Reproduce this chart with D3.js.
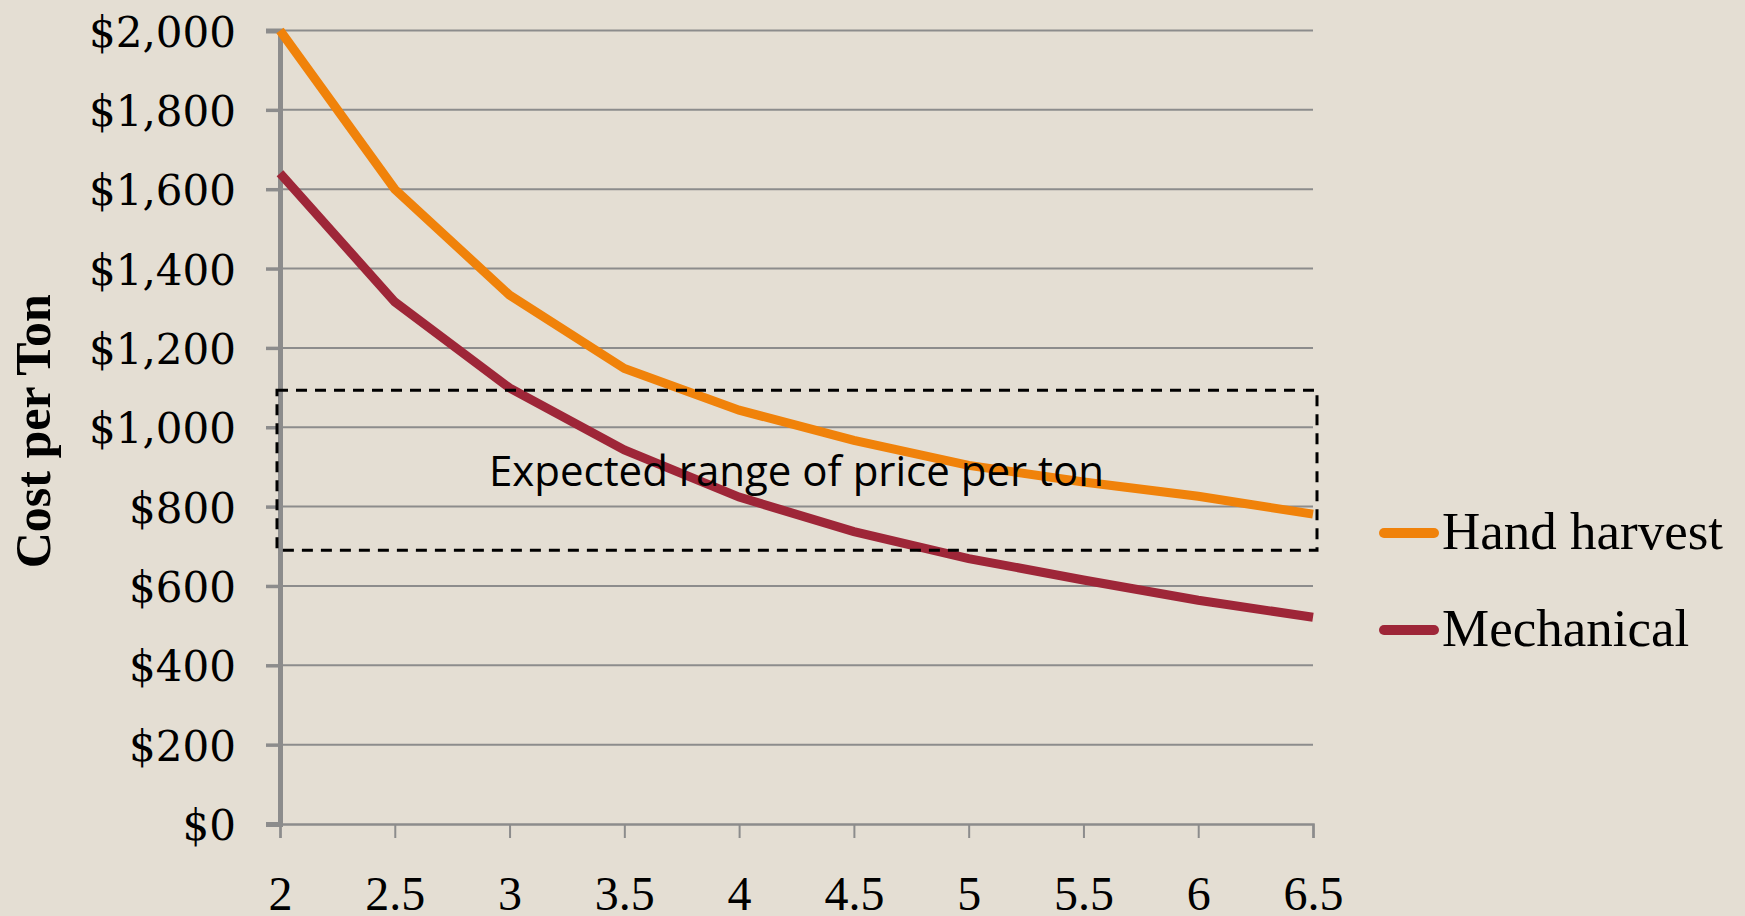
<!DOCTYPE html>
<html>
<head>
<meta charset="utf-8">
<script src="https://cdn.jsdelivr.net/npm/d3@7"></script>
<style>
  html, body { margin: 0; padding: 0; background: #e4ded3; }
  svg { display: block; }
  .tick text { fill: #000; }
</style>
</head>
<body>
<svg></svg>
<script>
///////////////////////////////////////////
// Data
var yieldTons = [2, 2.5, 3, 3.5, 4, 4.5, 5, 5.5, 6, 6.5];
var handHarvest = [2000, 1600, 1333, 1148, 1043, 967, 904, 862, 826, 781];
var mechanical  = [1640, 1316, 1099, 943, 824, 737, 669, 615, 564, 521];
var seriesNames = ["Hand harvest", "Mechanical"];
var yTicks = [0, 200, 400, 600, 800, 1000, 1200, 1400, 1600, 1800, 2000];
var priceRange = [690, 1093]; // expected range of price per ton
var rangeLabel = "Expected range of price per ton";

///////////////////////////////////////////
// Layout Setting
var svgWidth = 1745,
    svgHeight = 916;
var margin = {top: 30.5, right: 432, bottom: 92, left: 280},
    width = svgWidth - margin.left - margin.right,
    height = svgHeight - margin.top - margin.bottom;

var colors = ["#f0820a", "#9e2638"];
var serif = "'Liberation Serif', 'Times New Roman', serif";
var wideSerif = "'DejaVu Serif', serif";

var svg = d3.select("svg").attr("width", svgWidth).attr("height", svgHeight);
svg.append("rect").attr("width", svgWidth).attr("height", svgHeight).attr("fill", "#e4ded3");

var g = svg.append("g").attr("transform", "translate(" + [margin.left, margin.top] + ")");

var x = d3.scaleLinear().domain([2, 6.5]).range([0, width]);
var y = d3.scaleLinear().domain([0, 2000]).range([height, 0]);

///////////////////////////////////////////
// Gridlines
g.append("g").selectAll("line")
  .data(yTicks.slice(1))
  .enter().append("line")
  .attr("x1", 0).attr("x2", width)
  .attr("y1", function(d){ return y(d); })
  .attr("y2", function(d){ return y(d); })
  .attr("stroke", "#8c8c8c").attr("stroke-width", 2);

///////////////////////////////////////////
// Axes
var xAxis = g.append("g").attr("transform", "translate(0," + height + ")")
  .call(d3.axisBottom(x).tickValues(yieldTons).tickSize(14).tickPadding(38)
        .tickFormat(d3.format("")));
xAxis.select(".domain").attr("stroke", "#8c8c8c").attr("stroke-width", 2.5);
xAxis.selectAll(".tick line").attr("stroke", "#8c8c8c").attr("stroke-width", 2);
xAxis.selectAll(".tick text").attr("font-family", serif).attr("font-size", 48).attr("dy", "0.71em");

var yAxis = g.append("g")
  .call(d3.axisLeft(y).tickValues(yTicks).tickSize(14).tickPadding(30)
        .tickFormat(d3.format("$,.0f")));
yAxis.select(".domain").attr("stroke", "#8c8c8c").attr("stroke-width", 5);
yAxis.selectAll(".tick line").attr("stroke", "#8c8c8c").attr("stroke-width", 3.5);
yAxis.selectAll(".tick text").attr("font-family", wideSerif).attr("font-size", 42).attr("dy", "0.37em");

svg.append("text")
  .attr("transform", "translate(50," + (margin.top + height / 2 + 4) + ") rotate(-90)")
  .attr("text-anchor", "middle")
  .attr("font-family", serif).attr("font-weight", "bold").attr("font-size", 50)
  .text("Cost per Ton");

///////////////////////////////////////////
// Lines
var line = d3.line()
  .x(function(d, i){ return x(yieldTons[i]); })
  .y(function(d){ return y(d); });

[handHarvest, mechanical].forEach(function(s, i) {
  g.append("path").datum(s)
    .attr("d", line)
    .attr("fill", "none")
    .attr("stroke", colors[i])
    .attr("stroke-width", 9);
});

///////////////////////////////////////////
// Expected price range box
g.append("rect")
  .attr("x", x(2) - 3)
  .attr("y", y(priceRange[1]))
  .attr("width", x(6.5) - x(2) + 7)
  .attr("height", y(priceRange[0]) - y(priceRange[1]))
  .attr("fill", "none")
  .attr("stroke", "#000").attr("stroke-width", 3)
  .attr("stroke-dasharray", "11,8");

g.append("text")
  .attr("x", (x(2) + x(6.5)) / 2)
  .attr("y", y(priceRange[1]) + 96)
  .attr("text-anchor", "middle")
  .attr("font-family", "'Open Sans', Lato, sans-serif")
  .attr("font-size", 42)
  .text(rangeLabel);

///////////////////////////////////////////
// Legend
var legend = svg.append("g").attr("transform", "translate(1380,533)");
seriesNames.forEach(function(name, i) {
  var row = legend.append("g").attr("transform", "translate(0," + (i * 97) + ")");
  row.append("line")
    .attr("x1", 4).attr("x2", 54)
    .attr("stroke", colors[i]).attr("stroke-width", 10)
    .attr("stroke-linecap", "round");
  row.append("text")
    .attr("x", 62).attr("y", 16)
    .attr("font-family", serif).attr("font-size", 53)
    .text(name);
});
</script>
</body>
</html>
